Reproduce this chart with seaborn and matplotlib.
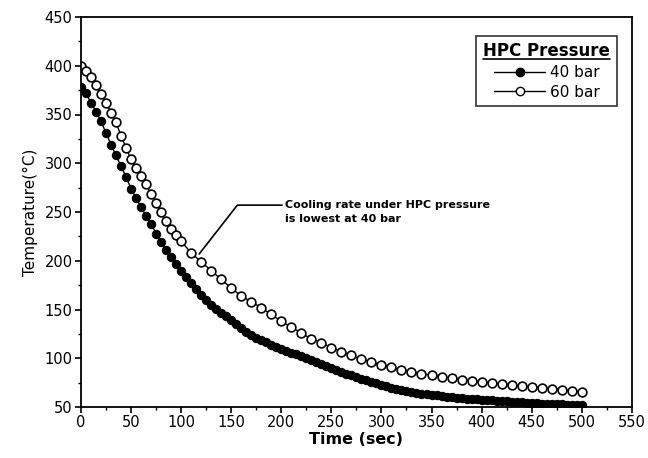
import numpy as np
import pandas as pd
import seaborn as sns
import matplotlib.pyplot as plt
from matplotlib.lines import Line2D
from matplotlib.ticker import MultipleLocator

# 40 bar: sampled every 5 s
time_40 = list(range(0, 505, 5))
temp_40 = [378, 372, 362, 353, 343, 331, 319, 308, 297, 286,
           274, 264, 255, 246, 238, 228, 219, 211, 204, 197,
           190, 183, 177, 171, 165, 160, 155, 151, 147, 143,
           139, 135, 131, 127, 124, 121, 119, 117, 114, 112,
           110, 108, 106, 104, 102, 100, 98, 96, 94, 92,
           90, 88, 86, 84, 83, 81, 79, 78, 76, 75,
           73, 72, 70, 69, 68, 67, 66, 65, 64, 63,
           62, 62, 61, 60, 60, 59, 59, 58, 58, 58,
           57, 57, 57, 56, 56, 56, 55, 55, 55, 54,
           54, 54, 53, 53, 53, 53, 53, 52, 52, 52, 52]

# 60 bar: every 5 s up to 100 s, then every 10 s
time_60 = list(range(0, 100, 5)) + list(range(100, 510, 10))
temp_60 = [400, 395, 388, 380, 371, 362, 352, 342, 328, 316,
           304, 295, 287, 279, 268, 259, 250, 241, 233, 226,
           220, 208, 199, 190, 181, 172, 164, 158, 152, 145,
           138, 132, 126, 120, 116, 111, 107, 103, 99, 96,
           93, 91, 88, 86, 84, 83, 81, 80, 78, 77,
           76, 75, 74, 73, 72, 71, 70, 69, 68, 67, 66]

df = pd.concat([
    pd.DataFrame({"time": time_40, "temp": temp_40, "p": "40 bar"}),
    pd.DataFrame({"time": time_60, "temp": temp_60, "p": "60 bar"}),
])

sns.set_style("ticks")
plt.rcParams['font.family'] = ['DejaVu Sans']
plt.rcParams.update({"text.color": "black", "axes.labelcolor": "black",
                     "xtick.color": "black", "ytick.color": "black"})

fig = plt.figure(figsize=(6.48, 4.58), dpi=100)
ax = fig.add_axes([0.125, 0.111, 0.850, 0.852])

d40 = df[df.p == "40 bar"]
d60 = df[df.p == "60 bar"]
sns.lineplot(data=d40, x="time", y="temp", color="black", lw=1,
             marker="o", markersize=6, markerfacecolor="black",
             markeredgecolor="black", ax=ax)
sns.lineplot(data=d60, x="time", y="temp", color="black", lw=1,
             marker="o", markersize=6.3, markerfacecolor="white",
             markeredgecolor="black", markeredgewidth=1.2, ax=ax)

ax.set_xlim(0, 550)
ax.set_ylim(50, 450)
ax.xaxis.set_major_locator(MultipleLocator(50))
ax.xaxis.set_minor_locator(MultipleLocator(25))
ax.yaxis.set_major_locator(MultipleLocator(50))
ax.yaxis.set_minor_locator(MultipleLocator(25))
ax.tick_params(which="major", length=4, width=1.2, labelsize=10.5, direction="out", pad=2)
ax.tick_params(which="minor", length=2, width=1, direction="out")
for s in ax.spines.values():
    s.set_linewidth(1.3)
    s.set_color("black")

ax.set_xlabel("Time (sec)", fontsize=11.5, fontweight="bold", labelpad=1)
ax.set_ylabel("Temperature(°C)", fontsize=11, labelpad=5)

ax.annotate("Cooling rate under HPC pressure\nis lowest at 40 bar",
            xy=(118, 207), xytext=(204, 262), fontsize=8, fontweight="bold",
            ha="left", va="top", linespacing=1.5,
            arrowprops=dict(arrowstyle="-", color="black", lw=1.2,
                            shrinkA=0, shrinkB=0, relpos=(0, 0.8),
                            connectionstyle="angle,angleA=0,angleB=52,rad=0"))

handles = [
    Line2D([], [], color="black", lw=1, marker="o", markersize=6,
           markerfacecolor="black", markeredgecolor="black"),
    Line2D([], [], color="black", lw=1, marker="o", markersize=6,
           markerfacecolor="white", markeredgecolor="black"),
]
leg = ax.legend(handles, ["40 bar", "60 bar"], title="HPC Pressure",
                loc="upper right", bbox_to_anchor=(0.987, 0.972),
                frameon=True, fancybox=False, edgecolor="black",
                fontsize=11, title_fontsize=12, handlelength=3.4,
                handletextpad=0.3, borderpad=0.45, labelspacing=0.3)
leg.get_frame().set_linewidth(1.2)
leg.get_title().set_fontweight("bold")

# underline the legend title
fig.canvas.draw()
bb = leg.get_title().get_window_extent().transformed(fig.transFigure.inverted())
fig.add_artist(Line2D([bb.x0, bb.x1], [bb.y0 + 0.002, bb.y0 + 0.002],
                      color="black", lw=1.2, transform=fig.transFigure))

fig.savefig("out.png", dpi=100)
